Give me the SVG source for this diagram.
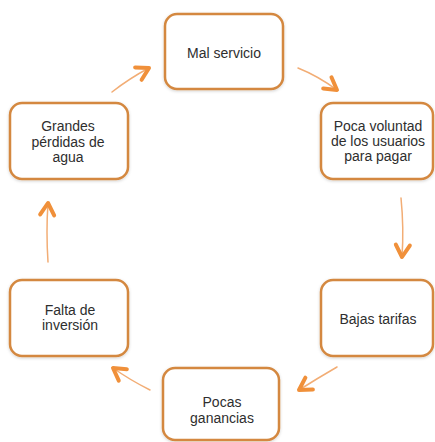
<svg xmlns="http://www.w3.org/2000/svg" width="435" height="442" viewBox="0 0 435 442">
  <defs>
    <filter id="sh" x="-10%" y="-10%" width="120%" height="125%">
      <feDropShadow dx="0" dy="1" stdDeviation="1.5" flood-color="#000" flood-opacity="0.18"/>
    </filter>
    <marker id="head" markerUnits="userSpaceOnUse" viewBox="-16 -12 20 24" refX="0" refY="0" markerWidth="20" markerHeight="24" orient="auto">
      <path d="M-12,-7 L0,0 L-12,7" fill="none" stroke="#F0903A" stroke-width="4" stroke-linecap="round" stroke-linejoin="round"/>
    </marker>
  </defs>
  <style>
    .box { fill: #ffffff; stroke: #D4883F; stroke-width: 2.5; filter: url(#sh); }
    .lbl { font-family: "Liberation Sans", Arial, sans-serif; font-size: 14px; fill: #2e2e2e; text-anchor: middle; }
    .arr { fill: none; stroke: #F2AD75; stroke-width: 1.5; stroke-linecap: round; marker-end: url(#head); }
  </style>
  <rect width="435" height="442" fill="#ffffff"/>

  <g id="connectors">
    <path class="arr" d="M298,68 Q318,76 337,90"/>
    <path class="arr" d="M401,198 Q404,228 402,257"/>
    <path class="arr" d="M337,367 Q318,378 299,390"/>
    <path class="arr" d="M150,390 Q130,380 113,368"/>
    <path class="arr" d="M48,262 Q46,232 48,203"/>
    <path class="arr" d="M112,92 Q130,78 149,68"/>
  </g>

  <g id="mal-servicio">
    <rect class="box" x="165" y="14" width="118" height="75" rx="12"/>
    <text class="lbl" x="224" y="58">Mal servicio</text>
  </g>

  <g id="poca-voluntad">
    <rect class="box" x="321" y="103" width="112" height="76" rx="12"/>
    <text class="lbl" x="378" y="131">Poca voluntad</text>
    <text class="lbl" x="378" y="146">de los usuarios</text>
    <text class="lbl" x="378" y="161">para pagar</text>
  </g>

  <g id="bajas-tarifas">
    <rect class="box" x="321" y="280" width="112" height="76" rx="12"/>
    <text class="lbl" x="378" y="324">Bajas tarifas</text>
  </g>

  <g id="pocas-ganancias">
    <rect class="box" x="163" y="368" width="116" height="72" rx="12"/>
    <text class="lbl" x="222" y="407">Pocas</text>
    <text class="lbl" x="222" y="423">ganancias</text>
  </g>

  <g id="falta-inversion">
    <rect class="box" x="10" y="280" width="118" height="76" rx="12"/>
    <text class="lbl" x="70" y="315">Falta de</text>
    <text class="lbl" x="70" y="330">inversión</text>
  </g>

  <g id="grandes-perdidas">
    <rect class="box" x="10" y="103" width="118" height="76" rx="12"/>
    <text class="lbl" x="68" y="131">Grandes</text>
    <text class="lbl" x="68" y="147">pérdidas de</text>
    <text class="lbl" x="68" y="162">agua</text>
  </g>
</svg>
